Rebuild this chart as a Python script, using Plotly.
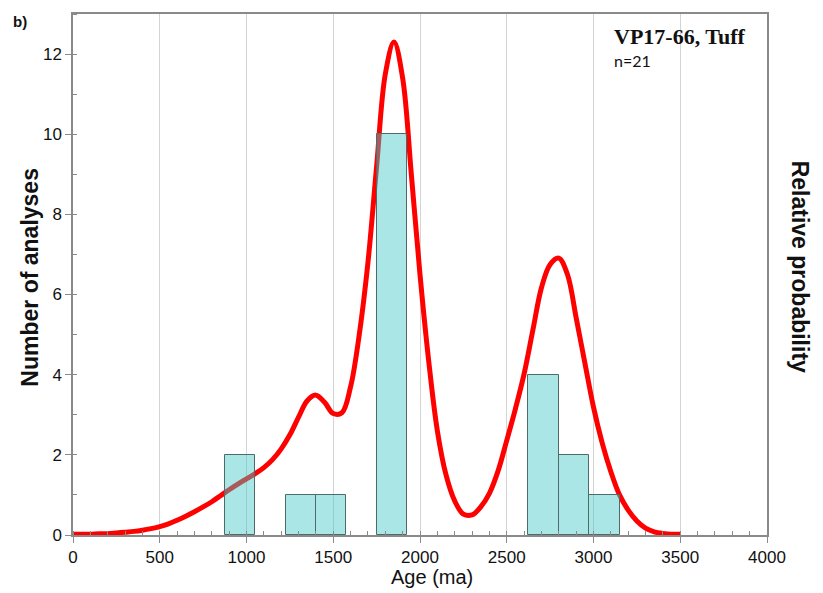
import plotly.graph_objects as go

# Histogram bins (Ma) and counts
bin_start = [875, 1225, 1400, 1750, 2625, 2800, 2975]
bin_width = 175
counts = [2, 1, 1, 10, 4, 2, 1]

# Relative probability curve (scaled to left axis units)
ages = [0, 50, 100, 150, 200, 250, 300, 350, 400, 450, 500, 550, 600, 650, 700, 750,
        800, 850, 900, 950, 1000, 1050, 1100, 1150, 1200, 1250, 1300, 1350, 1400, 1450,
        1500, 1550, 1600, 1650, 1700, 1750, 1800, 1850, 1900, 1950, 2000, 2050, 2100,
        2150, 2200, 2250, 2300, 2350, 2400, 2450, 2500, 2550, 2600, 2650, 2700, 2750,
        2800, 2850, 2900, 2950, 3000, 3050, 3100, 3150, 3200, 3250, 3300, 3350, 3400,
        3450, 3500]
prob = [0.02, 0.02, 0.02, 0.03, 0.03, 0.05, 0.07, 0.09, 0.12, 0.16, 0.21, 0.28, 0.37, 0.47, 0.58, 0.70,
        0.83, 0.98, 1.13, 1.27, 1.40, 1.53, 1.68, 1.88, 2.15, 2.50, 2.94, 3.35, 3.49, 3.31,
        3.03, 3.05, 3.70, 5.0, 6.8, 9.2, 11.5, 12.3, 11.4, 9.0, 6.5, 4.35, 2.6,
        1.5, 0.85, 0.52, 0.50, 0.70, 1.04, 1.6, 2.36, 3.15, 4.02, 5.1, 6.17, 6.75,
        6.91, 6.5, 5.42, 4.3, 3.19, 2.3, 1.58, 1.0, 0.62, 0.35, 0.17, 0.08, 0.04,
        0.02, 0.02]

x_ticks = [0, 500, 1000, 1500, 2000, 2500, 3000, 3500, 4000]
y_ticks = [0, 2, 4, 6, 8, 10, 12]

fig = go.Figure()
fig.add_trace(go.Scatter(x=ages, y=prob, mode="lines",
                         line=dict(color="#ff0000", width=5, shape="spline", smoothing=1.0),
                         showlegend=False, hoverinfo="skip"))
fig.add_trace(go.Bar(x=bin_start, y=counts, width=bin_width, offset=0, yaxis="y2",
                     marker=dict(color="rgba(66,199,199,0.45)", line=dict(color="#4d6b6b", width=1)),
                     showlegend=False))

axis_col = "#8a8a8a"
fig.update_layout(
    width=823, height=593,
    margin=dict(l=73, r=56, t=12, b=58),
    paper_bgcolor="white", plot_bgcolor="white",
    font=dict(family="Liberation Sans, Arial, sans-serif", color="#111"),
    bargap=0,
    xaxis=dict(range=[0, 4000], tickvals=x_ticks, ticks="outside", ticklen=6, tickcolor=axis_col,
               showgrid=True, gridcolor="#d4d4d4", gridwidth=1,
               showline=True, linecolor=axis_col, linewidth=1.5, mirror=True, zeroline=False,
               tickfont=dict(size=17),
               minor=dict(dtick=100, ticks="inside", ticklen=4, tickcolor=axis_col, showgrid=False)),
    yaxis=dict(range=[0, 13], tickvals=y_ticks, ticks="outside", ticklen=6, tickcolor=axis_col,
               showgrid=False, showline=True, linecolor=axis_col, linewidth=1.5, mirror=True,
               zeroline=False, tickfont=dict(size=17),
               minor=dict(dtick=1, ticks="inside", ticklen=4, tickcolor=axis_col)),
    yaxis2=dict(range=[0, 13], overlaying="y", side="right", showticklabels=False, ticks="",
                showgrid=False, zeroline=False, showline=False),
)

fig.add_annotation(text="Age (ma)", xref="paper", yref="paper", x=0.518, y=0, yshift=-42,
                   xanchor="center", yanchor="middle", showarrow=False, font=dict(size=20))
fig.add_annotation(text="<b>Number of analyses</b>", textangle=-90, xref="paper", yref="paper",
                   x=0, y=0.494, xshift=-43, xanchor="center", yanchor="middle",
                   showarrow=False, font=dict(size=23))
fig.add_annotation(text="<b>Relative probability</b>", textangle=90, xref="paper", yref="paper",
                   x=1.0, y=0.515, xshift=33, xanchor="center", yanchor="middle",
                   showarrow=False, font=dict(size=23))
fig.add_annotation(text="<b>VP17-66, Tuff</b>", xref="paper", yref="paper", x=0.776, y=0.956,
                   xanchor="left", yanchor="middle", showarrow=False,
                   font=dict(size=22, family="Liberation Serif, serif"))
fig.add_annotation(text="n=21", xref="paper", yref="paper", x=0.776, y=0.910,
                   xanchor="left", yanchor="middle", showarrow=False,
                   font=dict(size=16, family="Lato, sans-serif"))
fig.add_annotation(text="<b>b)</b>", xref="paper", yref="paper", x=-0.0764, y=0.985,
                   xanchor="center", yanchor="middle", showarrow=False, font=dict(size=15))

fig.write_html("out.html")
